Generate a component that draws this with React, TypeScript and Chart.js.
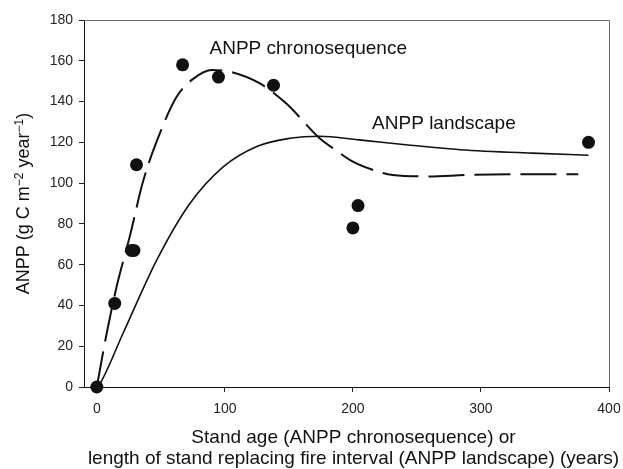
import React, { useEffect, useRef } from "react";
import { Chart, registerables } from "chart.js";

Chart.register(...registerables);

const FONT = "'Liberation Sans', Arial, Helvetica, sans-serif";

const xTicks = [0, 100, 200, 300, 400];
const yTicks = [0, 20, 40, 60, 80, 100, 120, 140, 160, 180];

// observed ANPP (chronosequence stands)
const obsX = [0, 14, 27, 29, 31, 67, 95, 138, 200, 204, 384];
const obsY = [0, 41, 67, 67, 109, 158, 152, 148, 78, 89, 120];

// fitted ANPP chronosequence curve (dashed)
const chronoX = [0, 7.6, 15.4, 25.8, 36.2, 49, 62, 75, 90, 105, 127, 148, 174, 187, 200, 216, 231, 258, 290, 330, 376];
const chronoY = [0, 26, 49, 74, 101, 124, 142, 151, 155.5, 154.5, 149, 139, 122, 116, 110.5, 106.4, 104, 103.3, 104, 104.3, 104.3];

// fitted ANPP landscape curve (solid)
const landX = [0, 2.3, 20.6, 46.6, 72.7, 98.7, 125, 151, 174, 205, 245, 284, 340, 384];
const landY = [0, 1.5, 26.5, 62, 90, 108, 118, 122, 123, 121.2, 118.6, 116.4, 114.7, 113.7];

const labelTexts = ["ANPP chronosequence", "ANPP landscape"];
const labelX = [88, 215];
const labelY = [166, 129];

const xTitleLines = ["Stand age (ANPP chronosequence) or", "length of stand replacing fire interval (ANPP landscape) (years)"];

const toPts = (xs: number[], ys: number[]) => xs.map((x, i) => ({ x, y: ys[i] }));

const textPlugin = {
  id: "customText",
  afterDraw(chart: any) {
    const ctx = chart.ctx as CanvasRenderingContext2D;
    const ca = chart.chartArea;
    const xs = chart.scales.x;
    const ys = chart.scales.y;
    ctx.save();
    // top / right frame
    ctx.strokeStyle = "#666";
    ctx.lineWidth = 1;
    ctx.beginPath();
    ctx.moveTo(ca.left, ca.top + 0.5);
    ctx.lineTo(ca.right + 0.5, ca.top + 0.5);
    ctx.lineTo(ca.right + 0.5, ca.bottom);
    ctx.stroke();

    ctx.fillStyle = "#111";
    ctx.font = `19px ${FONT}`;
    ctx.textBaseline = "middle";
    ctx.textAlign = "left";
    labelTexts.forEach((t, i) => {
      ctx.fillText(t, xs.getPixelForValue(labelX[i]), ys.getPixelForValue(labelY[i]));
    });

    // x title
    ctx.textAlign = "center";
    const cx = (ca.left + ca.right) / 2 + 7;
    xTitleLines.forEach((t, i) => {
      ctx.fillText(t, cx, ca.bottom + 51 + i * 21);
    });

    // y title with superscripts
    const parts: [string, boolean][] = [
      ["ANPP (g C m", false],
      ["\u22122", true],
      [" year", false],
      ["\u22121", true],
      [")", false],
    ];
    const big = `18px ${FONT}`;
    const small = `12px ${FONT}`;
    let total = 0;
    parts.forEach(([s, sup]) => {
      ctx.font = sup ? small : big;
      total += ctx.measureText(s).width;
    });
    ctx.translate(22, (ca.top + ca.bottom) / 2);
    ctx.rotate(-Math.PI / 2);
    ctx.textAlign = "left";
    ctx.textBaseline = "alphabetic";
    let px = -total / 2;
    parts.forEach(([s, sup]) => {
      ctx.font = sup ? small : big;
      ctx.fillText(s, px, sup ? 1 : 7);
      px += ctx.measureText(s).width;
    });
    ctx.restore();
  },
};

export default function App() {
  const ref = useRef<HTMLCanvasElement | null>(null);
  useEffect(() => {
    if (!ref.current) return;
    const chart = new Chart(ref.current, {
      type: "scatter",
      data: {
        datasets: [
          {
            label: "ANPP landscape",
            data: toPts(landX, landY),
            showLine: true,
            borderColor: "#111",
            borderWidth: 1.6,
            pointRadius: 0,
            cubicInterpolationMode: "monotone",
            fill: false,
          } as any,
          {
            label: "ANPP chronosequence",
            data: toPts(chronoX, chronoY),
            showLine: true,
            borderColor: "#111",
            borderWidth: 2,
            borderDash: [36, 10],
            pointRadius: 0,
            cubicInterpolationMode: "monotone",
            fill: false,
          } as any,
          {
            label: "Observed",
            data: toPts(obsX, obsY),
            showLine: false,
            pointRadius: 6.5,
            pointBackgroundColor: "#111",
            pointBorderColor: "#111",
            pointBorderWidth: 0,
            clip: false,
          } as any,
        ],
      },
      options: {
        animation: false,
        responsive: false,
        maintainAspectRatio: false,
        layout: { padding: { left: 0, top: 20, right: 14, bottom: 52 } },
        plugins: { legend: { display: false }, tooltip: { enabled: false }, title: { display: false } },
        scales: {
          x: {
            type: "linear",
            min: -10,
            max: 400,
            afterBuildTicks: (s: any) => {
              s.ticks = xTicks.map((v) => ({ value: v }));
            },
            afterFit: (s: any) => {
              s.height = 30;
              s.paddingLeft = 0;
              s.paddingRight = 0;
            },
            grid: { display: true, drawOnChartArea: false, drawTicks: true, tickLength: 5, color: "#222" },
            border: { display: true, color: "#111", width: 1 },
            ticks: { color: "#222", font: { family: FONT, size: 14 }, padding: 9, maxRotation: 0 },
          },
          y: {
            type: "linear",
            min: 0,
            max: 180,
            afterBuildTicks: (s: any) => {
              s.ticks = yTicks.map((v) => ({ value: v }));
            },
            afterFit: (s: any) => {
              s.width = 84;
              s.paddingTop = 0;
              s.paddingBottom = 0;
            },
            grid: { display: true, drawOnChartArea: false, drawTicks: true, tickLength: 5, color: "#222" },
            border: { display: true, color: "#111", width: 1 },
            ticks: { color: "#222", font: { family: FONT, size: 14 }, padding: 6 },
          },
        },
      },
      plugins: [textPlugin],
    });
    return () => chart.destroy();
  }, []);
  return (
    <div style={{ position: "fixed", left: 0, top: 0, width: 623, height: 469, background: "#fff" }}>
      <canvas ref={ref} width={623} height={469} style={{ display: "block", width: 623, height: 469 }} />
    </div>
  );
}
